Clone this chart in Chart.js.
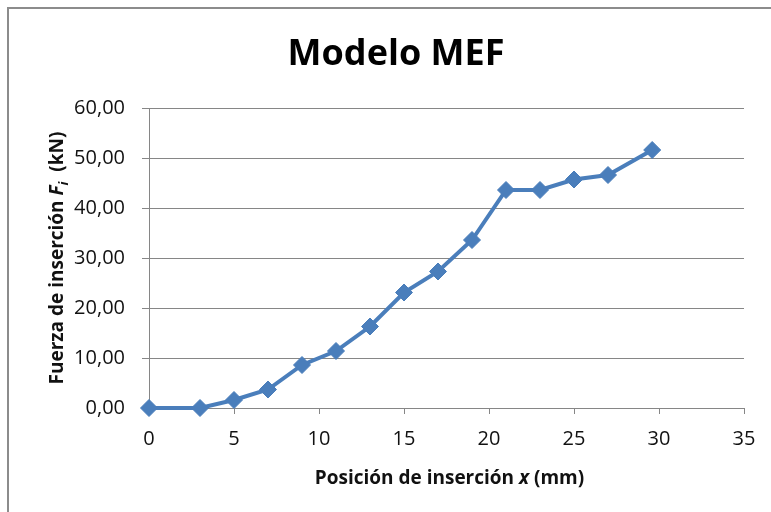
<!DOCTYPE html>
<html>
<head>
<meta charset="utf-8">
<script src="https://cdn.jsdelivr.net/npm/chart.js@4/dist/chart.umd.min.js"></script>
<style>
  html, body { margin: 0; padding: 0; background: #ffffff; }
  #wrap { width: 771px; height: 512px; position: relative; }
</style>
</head>
<body>
<div id="wrap"><canvas id="c" width="771" height="512"></canvas></div>
<script>
// Insertion position (mm) and insertion force (kN), FEM model
const posicion = [0, 3, 5, 7, 9, 11, 13, 15, 17, 19, 21, 23, 25, 27, 29.6];
const fuerza = [0, 0, 1.6, 3.7, 8.6, 11.4, 16.3, 23.1, 27.3, 33.6, 43.6, 43.6, 45.7, 46.6, 51.6];
const xTicks = [0, 5, 10, 15, 20, 25, 30, 35];
const yTicks = [0, 10, 20, 30, 40, 50, 60];

const FONT = "'Open Sans', 'DejaVu Sans', sans-serif";
const GRAY = '#868686';
const BLUE = '#4A7EBB';

// Outer frame of the chart object
const framePlugin = {
  id: 'frame',
  beforeDraw(chart) {
    const ctx = chart.ctx;
    ctx.save();
    ctx.fillStyle = '#ffffff';
    ctx.fillRect(0, 0, chart.width, chart.height);
    ctx.strokeStyle = '#8c8c8c';
    ctx.lineWidth = 2;
    ctx.beginPath();
    ctx.moveTo(8, chart.height + 5);
    ctx.lineTo(8, 8);
    ctx.lineTo(chart.width + 5, 8);
    ctx.stroke();
    ctx.restore();
  }
};

// Draws a run of text segments with mixed styles (italic variable, subscript)
function drawRuns(ctx, runs, size) {
  let total = 0;
  const widths = runs.map(r => {
    ctx.font = (r.italic ? 'italic ' : '') + 'bold ' + Math.round(size * (r.sub ? 0.7 : 1)) + 'px ' + FONT;
    const w = ctx.measureText(r.t).width;
    total += w;
    return w;
  });
  let x = -total / 2;
  runs.forEach((r, i) => {
    ctx.font = (r.italic ? 'italic ' : '') + 'bold ' + Math.round(size * (r.sub ? 0.7 : 1)) + 'px ' + FONT;
    ctx.fillText(r.t, x, r.sub ? size * 0.25 : 0);
    x += widths[i];
  });
}

const axisTitlePlugin = {
  id: 'axisTitles',
  afterDraw(chart) {
    const ctx = chart.ctx;
    const area = chart.chartArea;
    ctx.save();
    ctx.fillStyle = '#111111';
    ctx.textBaseline = 'alphabetic';
    ctx.textAlign = 'left';
    // x axis title
    ctx.save();
    ctx.translate((area.left + area.right) / 2 + 3, 484);
    drawRuns(ctx, [
      { t: 'Posición de inserción ' },
      { t: 'x', italic: true },
      { t: ' (mm)' }
    ], 19);
    ctx.restore();
    // y axis title
    ctx.save();
    ctx.translate(63, (area.top + area.bottom) / 2);
    ctx.rotate(-Math.PI / 2);
    drawRuns(ctx, [
      { t: 'Fuerza de inserción ' },
      { t: 'F', italic: true },
      { t: 'i', italic: true, sub: true },
      { t: '  (kN)' }
    ], 19);
    ctx.restore();
    ctx.restore();
  }
};

new Chart(document.getElementById('c'), {
  type: 'scatter',
  data: {
    datasets: [{
      label: 'Modelo MEF',
      data: posicion.map((x, i) => ({ x: x, y: fuerza[i] })),
      showLine: true,
      borderColor: BLUE,
      backgroundColor: BLUE,
      borderWidth: 4,
      pointStyle: 'rectRot',
      pointRadius: 8.5,
      pointHoverRadius: 8.5,
      pointBorderWidth: 1,
      pointBorderColor: BLUE,
      pointBackgroundColor: BLUE,
      clip: false
    }]
  },
  options: {
    responsive: false,
    animation: false,
    events: [],
    layout: { padding: { left: 48, right: 27, top: 0, bottom: 0 } },
    plugins: {
      legend: { display: false },
      tooltip: { enabled: false },
      title: {
        display: true,
        text: 'Modelo MEF',
        color: '#000000',
        font: { family: FONT, size: 36, weight: 'bold', lineHeight: 1.25 },
        padding: { top: 32, bottom: 31 }
      }
    },
    scales: {
      x: {
        type: 'linear',
        min: 0,
        max: 35,
        afterBuildTicks(axis) { axis.ticks = xTicks.map(v => ({ value: v })); },
        afterFit(axis) { axis.height = 104; },
        grid: { drawOnChartArea: false, drawTicks: true, tickLength: 6, color: GRAY, lineWidth: 1 },
        border: { display: true, color: GRAY, width: 1 },
        ticks: {
          color: '#111111',
          padding: 13,
          maxRotation: 0,
          font: { family: FONT, size: 20 },
          callback: v => String(v)
        }
      },
      y: {
        type: 'linear',
        min: 0,
        max: 60,
        afterBuildTicks(axis) { axis.ticks = yTicks.map(v => ({ value: v })); },
        afterFit(axis) { axis.width = 101; },
        grid: { drawOnChartArea: true, drawTicks: true, tickLength: 7, color: GRAY, lineWidth: 1 },
        border: { display: true, color: GRAY, width: 1 },
        ticks: {
          color: '#111111',
          padding: 17,
          font: { family: FONT, size: 20 },
          callback: v => v.toFixed(2).replace('.', ',')
        }
      }
    }
  },
  plugins: [framePlugin, axisTitlePlugin]
});
</script>
</body>
</html>
